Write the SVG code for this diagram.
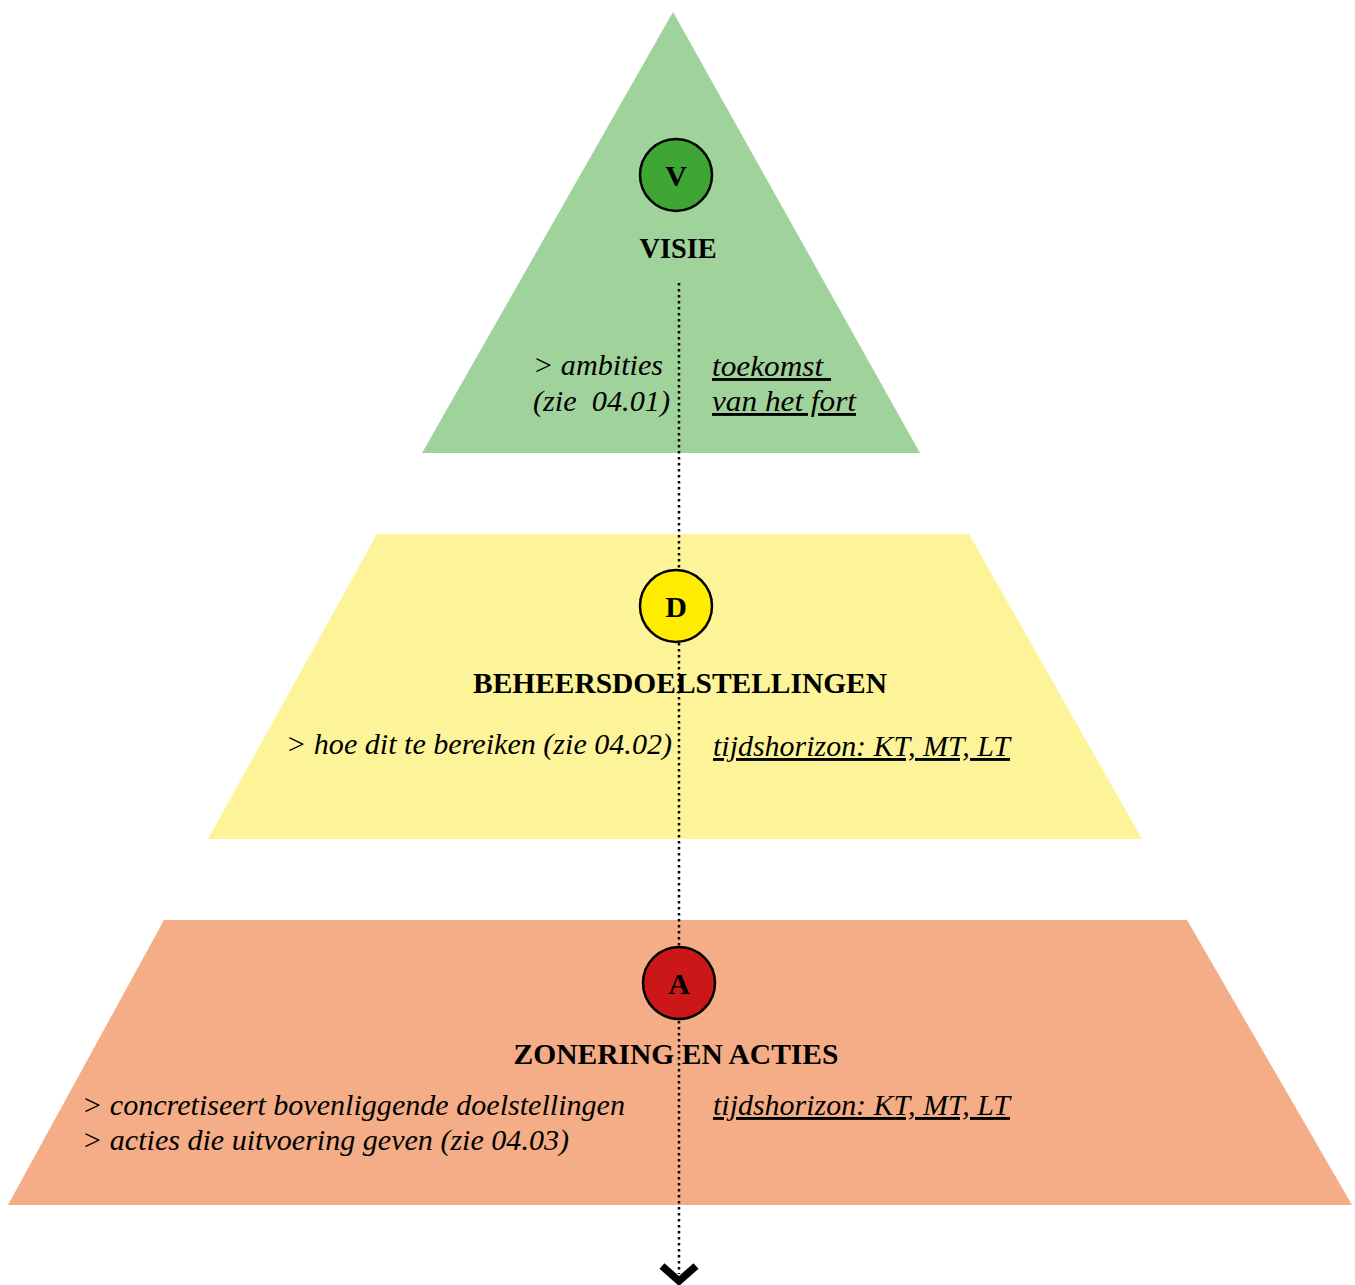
<svg xmlns="http://www.w3.org/2000/svg" width="1355" height="1285" viewBox="0 0 1355 1285">
<style>
.t{font-family:"Liberation Serif","Times New Roman",serif;fill:#000;}
.h{font-weight:bold;font-size:29px;}
.i{font-style:italic;font-size:29px;}
.u{text-decoration:underline;}
.c{stroke:#000;stroke-width:2.5;}
.l{font-weight:bold;font-size:30px;}
</style>
<rect width="1355" height="1285" fill="#fff"/>
<g id="visie">
<polygon points="673,12 920,453 422,453" fill="#a0d29b"/>
<text class="t h" x="678" y="258" text-anchor="middle" textLength="77" lengthAdjust="spacingAndGlyphs">VISIE</text>
<text class="t i" x="533" y="375" textLength="130" lengthAdjust="spacingAndGlyphs">&gt; ambities</text>
<text class="t i" x="533" y="411" textLength="137" lengthAdjust="spacingAndGlyphs" xml:space="preserve">(zie  04.01)</text>
<text class="t i u" x="712" y="376" textLength="119" lengthAdjust="spacingAndGlyphs" xml:space="preserve">toekomst </text>
<text class="t i u" x="712" y="411" textLength="144" lengthAdjust="spacingAndGlyphs">van het fort</text>
</g>
<g id="beheersdoelstellingen">
<polygon points="377,534 969,534 1142,839 208,839" fill="#fdf49a"/>
<text class="t h" x="680" y="693" text-anchor="middle" textLength="414" lengthAdjust="spacingAndGlyphs">BEHEERSDOELSTELLINGEN</text>
<text class="t i" x="286" y="754" textLength="386" lengthAdjust="spacingAndGlyphs">&gt; hoe dit te bereiken (zie 04.02)</text>
<text class="t i u" x="713" y="756" textLength="297" lengthAdjust="spacingAndGlyphs">tijdshorizon: KT, MT, LT</text>
</g>
<g id="zonering">
<polygon points="164,920 1187,920 1352,1205 8,1205" fill="#f4ad86"/>
<text class="t h" x="676" y="1064" text-anchor="middle" textLength="325" lengthAdjust="spacingAndGlyphs">ZONERING EN ACTIES</text>
<text class="t i" x="82" y="1115" textLength="543" lengthAdjust="spacingAndGlyphs">&gt; concretiseert bovenliggende doelstellingen</text>
<text class="t i" x="82" y="1150" textLength="487" lengthAdjust="spacingAndGlyphs">&gt; acties die uitvoering geven (zie 04.03)</text>
<text class="t i u" x="713" y="1115" textLength="297" lengthAdjust="spacingAndGlyphs">tijdshorizon: KT, MT, LT</text>
</g>
<g id="connectors">
<line x1="679" y1="283" x2="679" y2="1274" stroke="#000" stroke-width="2.5" stroke-dasharray="2.5 3.5"/>
<polyline points="662,1266 679,1281 696,1266" fill="none" stroke="#000" stroke-width="7.5"/>
</g>
<g id="badge-v">
<circle class="c" cx="676" cy="175" r="36" fill="#3fa535"/>
<text class="t l" x="676" y="186" text-anchor="middle">V</text>
</g>
<g id="badge-d">
<circle class="c" cx="676" cy="606" r="36" fill="#ffec00"/>
<text class="t l" x="676" y="617" text-anchor="middle">D</text>
</g>
<g id="badge-a">
<circle class="c" cx="679" cy="983" r="36" fill="#cc1719"/>
<text class="t l" x="679" y="994" text-anchor="middle">A</text>
</g>
</svg>
